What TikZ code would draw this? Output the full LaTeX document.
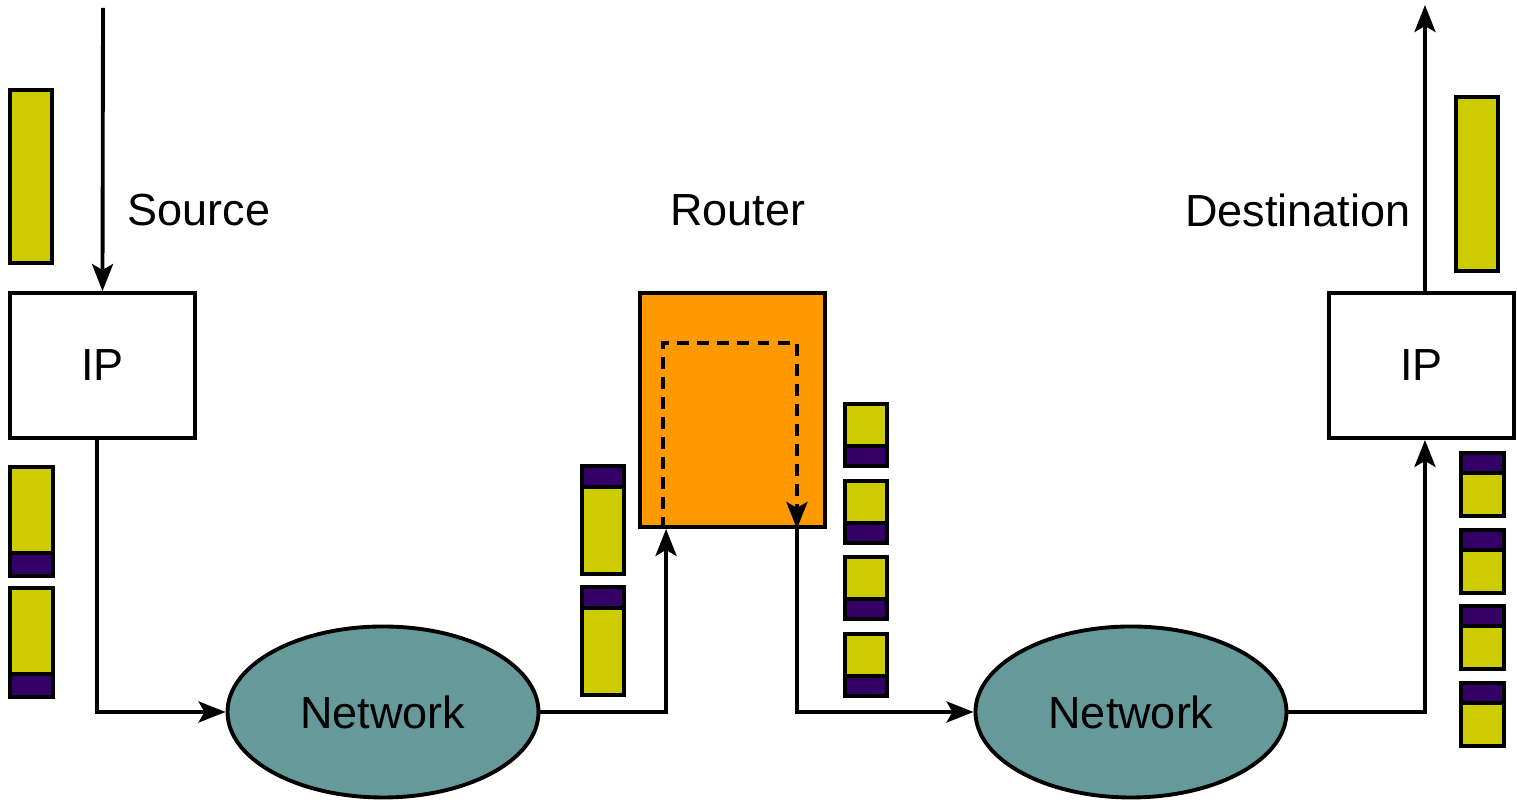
\documentclass[tikz,border=0pt]{standalone}
\usepackage{fontspec}
\setmainfont{Liberation Sans}
\usepackage{xcolor}
\usepackage{tikz}
\usetikzlibrary{shapes,arrows.meta,positioning,calc}
\definecolor{pktyellow}{RGB}{204,204,0}
\definecolor{pktpurple}{RGB}{51,0,102}
\definecolor{rtorange}{RGB}{255,153,0}
\definecolor{netteal}{RGB}{102,153,153}

\begin{document}
\begin{tikzpicture}[
    line width=1.1pt,
    hostbox/.style={draw, fill=white, minimum width=1.85cm, minimum height=1.45cm},
    routerbox/.style={draw, fill=rtorange, minimum width=1.85cm, minimum height=2.34cm},
    netcloud/.style={draw, ellipse, fill=netteal, minimum width=3.11cm, minimum height=1.71cm, inner sep=0pt},
    lbl/.style={font=\fontsize{12.8}{15}\selectfont},
    flow/.style={-{Stealth[length=0.27cm,width=0.21cm,inset=0.06cm]}},
    data/.style={draw, fill=pktyellow},
    hdr/.style={draw, fill=pktpurple}]
                \useasboundingbox (0,0) rectangle (15.17,8.03);

                % Hosts and router
                \node[hostbox, lbl] (srcip) at (1.025,4.375) {IP};
                \node[hostbox, lbl] (dstip) at (14.215,4.375) {IP};
                \node[routerbox] (router) at (7.325,3.93) {};

                % Networks
                \node[netcloud, lbl] (net1) at (3.83,0.91) {Network};
                \node[netcloud, lbl] (net2) at (11.31,0.91) {Network};

                % Labels
                \node[lbl] (srclbl) at (1.99,5.93) {Source};
                \node[lbl] (rtlbl) at (7.38,5.93) {Router};
                \node[lbl] (dstlbl) at (12.98,5.93) {Destination};

                % Path of the packets
                \coordinate (appin) at (1.03,7.95);
                \coordinate (appout) at (14.25,7.98);
                \draw[flow] (appin) -- (srcip.north);
                \draw[flow] ([xshift=-0.055cm]srcip.south) |- (net1.west);
                \draw[flow] (net1.east) -| ([xshift=0.28cm]router.south west);
                \draw[flow] ([xshift=-0.30cm]router.south east) |- (net2.west);
                \draw[flow] (net2.east) -| ([xshift=0.035cm]dstip.south);
                \draw[flow] ([xshift=0.035cm]dstip.north) -- (appout);

                % Forwarding inside the router
                \draw[flow, dash pattern=on 3.4pt off 2.3pt]
                    ([xshift=0.25cm]router.south west) -- ++(0,1.86)
                    -| ([xshift=-0.30cm]router.south east);

                % Data handed down and up
                \draw[data] (0.10,7.13) rectangle (0.52,5.40);
                \draw[data] (14.56,7.06) rectangle (14.98,5.32);

                % Packets leaving the source (header below)
                \foreach \t in {3.36,2.15} {
                    \draw[data] (0.10,\t) rectangle ++(0.43,-0.86);
                    \draw[hdr] (0.10,\t-0.86) rectangle ++(0.43,-0.23);
                }

                % Packets reaching the router (header on top)
                \foreach \t in {3.37,2.16} {
                    \draw[hdr] (5.82,\t) rectangle ++(0.42,-0.21);
                    \draw[data] (5.82,\t-0.21) rectangle ++(0.42,-0.87);
                }

                % Packets leaving the router (header below)
                \foreach \t in {3.99,3.22,2.46,1.69} {
                    \draw[data] (8.45,\t) rectangle ++(0.42,-0.42);
                    \draw[hdr] (8.45,\t-0.42) rectangle ++(0.42,-0.20);
                }

                % Packets reaching the destination (header on top)
                \foreach \t in {3.50,2.73,1.97,1.20} {
                    \draw[hdr] (14.61,\t) rectangle ++(0.43,-0.20);
                    \draw[data] (14.61,\t-0.20) rectangle ++(0.43,-0.43);
                }
            \end{tikzpicture}
\end{document}
